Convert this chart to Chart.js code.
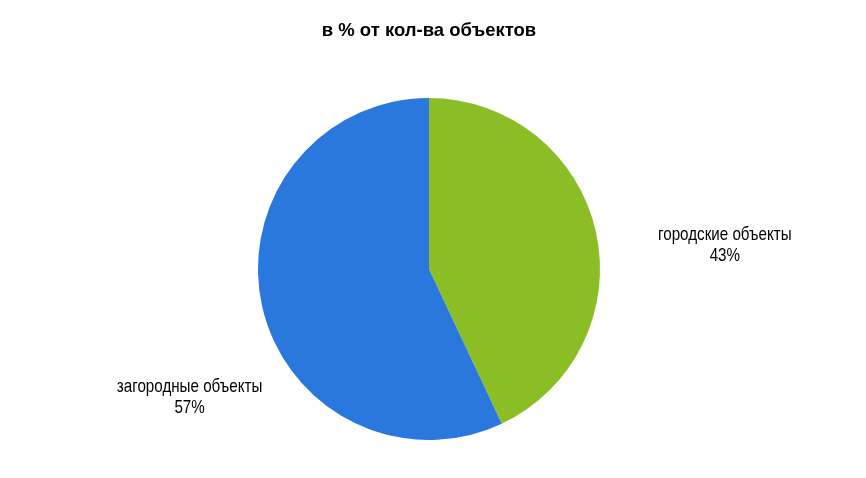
<!DOCTYPE html>
<html>
<head>
<meta charset="utf-8">
<script src="https://cdn.jsdelivr.net/npm/chart.js@4.4.0/dist/chart.umd.min.js"></script>
<style>
  html, body { margin: 0; padding: 0; background: #fff; }
  #wrap { width: 866px; height: 478px; }
</style>
</head>
<body>
<div id="wrap"><canvas id="myChart" width="866" height="478"></canvas></div>
<script>
// данные
const categories = ['городские объекты', 'загородные объекты'];
const values = [43, 57];
const percentLabels = ['43%', '57%'];
const chartTitle = 'в % от кол-ва объектов';

const colors = ['#8bbd25', '#2a77de'];
// смещение подписей от центра круга (в радиусах)
const labelOffsets = [{ dx: 1.73, dy: -0.14 }, { dx: -1.40, dy: 0.75 }];

const fontName = '"Liberation Sans", Arial, sans-serif';
// узкий шрифт нет -> сжимаем по горизонтали
const narrow = 0.82;

// рисуем заголовок и подписи
const labelsPlugin = {
  id: 'labelsPlugin',
  afterDraw(chart) {
    const ctx = chart.ctx;
    ctx.save();
    ctx.fillStyle = '#000';
    ctx.textAlign = 'center';
    ctx.textBaseline = 'middle';
    ctx.font = 'bold 18.5px ' + fontName;
    ctx.fillText(chartTitle, 429, 31);

    ctx.font = '18.5px ' + fontName;
    const meta = chart.getDatasetMeta(0);
    meta.data.forEach((arc, i) => {
      const r = arc.outerRadius;
      const x = arc.x + labelOffsets[i].dx * r;
      const y = arc.y + labelOffsets[i].dy * r;
      ctx.save();
      ctx.translate(x, y);
      ctx.scale(narrow, 1);
      ctx.fillText(categories[i], 0, -10);
      ctx.fillText(percentLabels[i], 0, 11);
      ctx.restore();
    });
    ctx.restore();
  }
};

const config = {
  type: 'pie',
  data: {
    labels: categories,
    datasets: [{
      data: values,
      backgroundColor: colors,
      borderWidth: 0
    }]
  },
  options: {
    responsive: false,
    animation: false,
    layout: {
      padding: { top: 98, bottom: 38, left: 0, right: 8 }
    },
    plugins: {
      legend: { display: false },
      title: { display: false },
      tooltip: { enabled: false }
    }
  },
  plugins: [labelsPlugin]
};

const ctx = document.getElementById('myChart').getContext('2d');
let myChart = new Chart(ctx, config);
</script>
</body>
</html>
